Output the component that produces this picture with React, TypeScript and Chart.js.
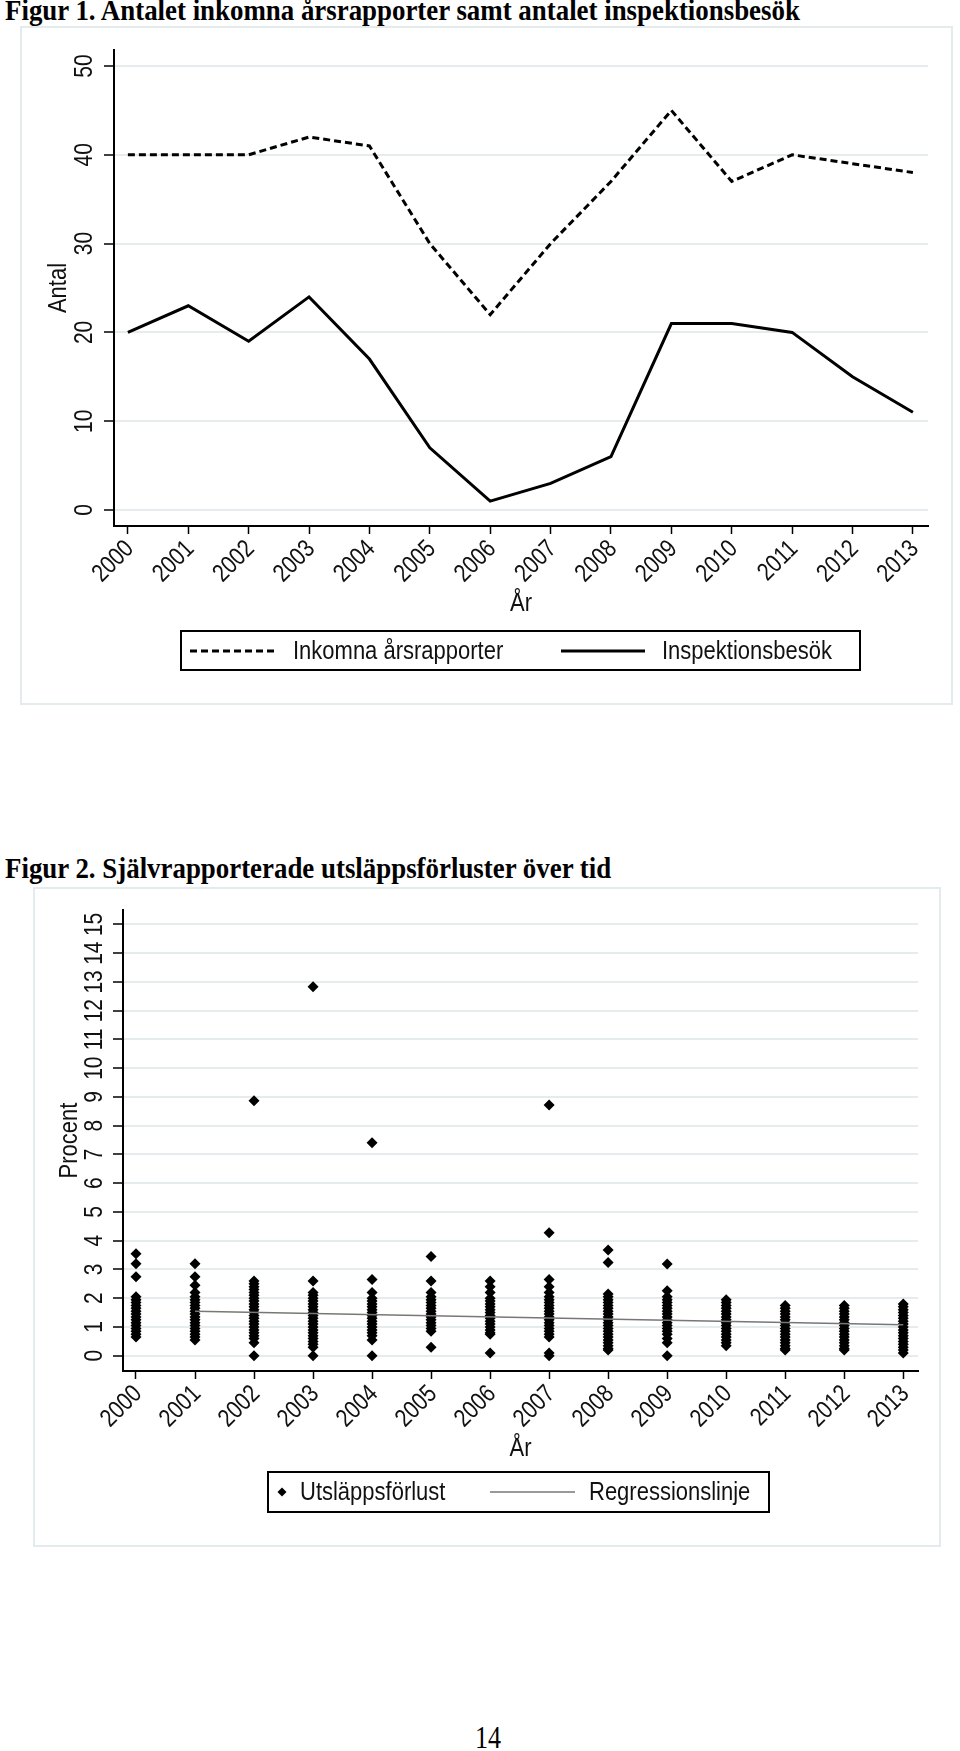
import React, { useEffect, useRef } from "react";
import { Chart, registerables } from "chart.js";

Chart.register(...registerables);

// ---------- Figur 1 data ----------
const years = [2000, 2001, 2002, 2003, 2004, 2005, 2006, 2007, 2008, 2009, 2010, 2011, 2012, 2013];
const yearLabels = ["2000", "2001", "2002", "2003", "2004", "2005", "2006", "2007", "2008", "2009", "2010", "2011", "2012", "2013"];
const inkomna = [40, 40, 40, 42, 41, 30, 22, 30, 37, 45, 37, 40, 39, 38];
const inspektion = [20, 23, 19, 24, 17, 7, 1, 3, 6, 21, 21, 20, 15, 11];
const yTicks1 = [0, 10, 20, 30, 40, 50];

// ---------- Figur 2 data ----------
const yTicks2 = [0, 1, 2, 3, 4, 5, 6, 7, 8, 9, 10, 11, 12, 13, 14, 15];
const v2000 = [3.55, 3.2, 2.75, 2.05, 1.95, 1.85, 1.75, 1.65, 1.55, 1.45, 1.35, 1.25, 1.15, 1.05, 0.95, 0.85, 0.75, 0.65];
const v2001 = [3.2, 2.75, 2.45, 2.2, 2.05, 1.95, 1.85, 1.75, 1.65, 1.55, 1.45, 1.35, 1.25, 1.15, 1.05, 0.95, 0.85, 0.75, 0.65, 0.55];
const v2002 = [8.87, 2.6, 2.5, 2.4, 2.3, 2.2, 2.1, 2.0, 1.9, 1.8, 1.7, 1.6, 1.5, 1.4, 1.3, 1.2, 1.1, 1.0, 0.9, 0.8, 0.7, 0.6, 0.45, 0.0];
const v2003 = [12.83, 2.6, 2.2, 2.1, 2.0, 1.9, 1.8, 1.7, 1.6, 1.5, 1.4, 1.3, 1.2, 1.1, 1.0, 0.9, 0.8, 0.7, 0.6, 0.5, 0.4, 0.3, 0.0];
const v2004 = [7.41, 2.65, 2.2, 2.0, 1.9, 1.8, 1.7, 1.6, 1.5, 1.4, 1.3, 1.2, 1.1, 1.0, 0.9, 0.8, 0.7, 0.55, 0.0];
const v2005 = [3.45, 2.6, 2.2, 2.05, 1.95, 1.85, 1.75, 1.65, 1.55, 1.45, 1.35, 1.25, 1.15, 1.05, 0.95, 0.85, 0.3];
const v2006 = [2.6, 2.4, 2.2, 2.0, 1.9, 1.8, 1.7, 1.6, 1.5, 1.4, 1.3, 1.2, 1.1, 1.0, 0.9, 0.8, 0.75, 0.1];
const v2007 = [8.72, 4.28, 2.65, 2.4, 2.2, 2.05, 1.95, 1.85, 1.75, 1.65, 1.55, 1.45, 1.35, 1.25, 1.15, 1.05, 0.95, 0.85, 0.75, 0.65, 0.1, 0.0];
const v2008 = [3.68, 3.24, 2.15, 2.05, 1.95, 1.85, 1.75, 1.65, 1.55, 1.45, 1.35, 1.25, 1.15, 1.05, 0.95, 0.85, 0.75, 0.65, 0.55, 0.45, 0.35, 0.25, 0.2];
const v2009 = [3.19, 2.26, 2.05, 1.95, 1.85, 1.75, 1.65, 1.55, 1.45, 1.35, 1.25, 1.15, 1.05, 0.95, 0.85, 0.75, 0.6, 0.45, 0.0];
const v2010 = [1.95, 1.85, 1.75, 1.65, 1.55, 1.45, 1.35, 1.25, 1.15, 1.05, 0.95, 0.85, 0.75, 0.65, 0.55, 0.45, 0.35];
const v2011 = [1.75, 1.65, 1.55, 1.45, 1.35, 1.25, 1.15, 1.05, 0.95, 0.85, 0.75, 0.65, 0.55, 0.45, 0.35, 0.25, 0.2];
const v2012 = [1.75, 1.65, 1.55, 1.45, 1.35, 1.25, 1.15, 1.05, 0.95, 0.85, 0.75, 0.65, 0.55, 0.45, 0.35, 0.25, 0.2];
const v2013 = [1.8, 1.7, 1.6, 1.5, 1.4, 1.3, 1.2, 1.1, 1.0, 0.9, 0.8, 0.7, 0.6, 0.5, 0.4, 0.3, 0.2, 0.1];
const valuesByYear = [v2000, v2001, v2002, v2003, v2004, v2005, v2006, v2007, v2008, v2009, v2010, v2011, v2012, v2013];
const regYears = [2001, 2013];
const regValues = [1.55, 1.08];

// ---------- styles ----------
const SANS = "'Liberation Sans', Arial, Helvetica, sans-serif";
const SERIF = "'Liberation Serif', 'Times New Roman', Times, serif";
const GRID = "#e6eced";
const TEXT = "#111";
const STRETCH = 1.2; // text in the original is taller than it is wide
const TICK_SIZE = 21;
const TITLE_SIZE = 22;
const LEGEND_SIZE = 22;

function stretchedText(ctx: CanvasRenderingContext2D, text: string, x: number, y: number, rot: number, align: CanvasTextAlign, size: number) {
  ctx.save();
  ctx.translate(x, y);
  if (rot) ctx.rotate(rot);
  ctx.scale(1 / STRETCH, 1);
  ctx.font = `${size * STRETCH}px ${SANS}`;
  ctx.textAlign = align;
  ctx.textBaseline = "middle";
  ctx.fillStyle = TEXT;
  ctx.fillText(text, 0, 0);
  ctx.restore();
}

function axisTextPlugin(cfg: { yLabelX: number; yTitle: string; yTitleX: number; xTitle: string; xTitleY: number; yLabels: number[] }) {
  return {
    id: "axisText",
    afterDraw(chart: any) {
      const ctx = chart.ctx as CanvasRenderingContext2D;
      const xs = chart.scales.x;
      const ys = chart.scales.y;
      const area = chart.chartArea;
      cfg.yLabels.forEach((v) => {
        stretchedText(ctx, String(v), cfg.yLabelX, ys.getPixelForValue(v), -Math.PI / 2, "center", TICK_SIZE);
      });
      years.forEach((v, i) => {
        const px = xs.getPixelForValue(v);
        stretchedText(ctx, yearLabels[i], px + 2, xs.top + 19, -Math.PI / 4, "right", TICK_SIZE);
      });
      stretchedText(ctx, cfg.yTitle, cfg.yTitleX, (area.top + area.bottom) / 2, -Math.PI / 2, "center", TITLE_SIZE);
      stretchedText(ctx, cfg.xTitle, (area.left + area.right) / 2, cfg.xTitleY, 0, "center", TITLE_SIZE);
    },
  };
}

const pinX = (h: number) => (s: any) => {
  s.height = h;
  s.paddingLeft = 0;
  s.paddingRight = 0;
  s.paddingTop = 0;
  s.paddingBottom = 0;
};
const pinY = (w: number) => (s: any) => {
  s.width = w;
  s.paddingLeft = 0;
  s.paddingRight = 0;
  s.paddingTop = 0;
  s.paddingBottom = 0;
};

const legend1Plugin = {
  id: "legend1",
  afterDraw(chart: any) {
    const ctx = chart.ctx as CanvasRenderingContext2D;
    const ds = chart.data.datasets;
    ctx.save();
    ctx.strokeStyle = "#000";
    ctx.lineWidth = 2;
    ctx.setLineDash([]);
    ctx.strokeRect(161, 605, 679, 39);
    const cy = 625;
    ctx.lineWidth = 3;
    ctx.setLineDash(ds[0].borderDash || []);
    ctx.beginPath();
    ctx.moveTo(170, cy);
    ctx.lineTo(256, cy);
    ctx.stroke();
    ctx.setLineDash([]);
    ctx.beginPath();
    ctx.moveTo(541, cy);
    ctx.lineTo(625, cy);
    ctx.stroke();
    ctx.restore();
    stretchedText(ctx, ds[0].label, 273, cy + 1, 0, "left", LEGEND_SIZE);
    stretchedText(ctx, ds[1].label, 642, cy + 1, 0, "left", LEGEND_SIZE);
  },
};

const legend2Plugin = {
  id: "legend2",
  afterDraw(chart: any) {
    const ctx = chart.ctx as CanvasRenderingContext2D;
    const ds = chart.data.datasets;
    ctx.save();
    ctx.strokeStyle = "#000";
    ctx.lineWidth = 2;
    ctx.strokeRect(235, 585, 501, 40);
    const cy = 605;
    ctx.fillStyle = "#000";
    ctx.beginPath();
    ctx.moveTo(249, cy - 4.5);
    ctx.lineTo(253.5, cy);
    ctx.lineTo(249, cy + 4.5);
    ctx.lineTo(244.5, cy);
    ctx.closePath();
    ctx.fill();
    ctx.strokeStyle = ds[0].borderColor;
    ctx.lineWidth = ds[0].borderWidth;
    ctx.beginPath();
    ctx.moveTo(457, cy);
    ctx.lineTo(542, cy);
    ctx.stroke();
    ctx.restore();
    stretchedText(ctx, ds[1].label, 267, cy + 1, 0, "left", LEGEND_SIZE);
    stretchedText(ctx, ds[0].label, 556, cy + 1, 0, "left", LEGEND_SIZE);
  },
};

function xScale(min: number, max: number, height: number): any {
  return {
    type: "linear",
    min,
    max,
    afterBuildTicks: (s: any) => {
      s.ticks = years.map((v) => ({ value: v }));
    },
    afterFit: pinX(height),
    ticks: { display: false, autoSkip: false },
    grid: { drawOnChartArea: false, drawTicks: true, tickLength: 8, tickColor: "#000", tickWidth: 1.5 },
    border: { display: true, color: "#000", width: 2 },
    title: { display: false },
  };
}

function yScale(min: number, max: number, ticks: number[], width: number): any {
  return {
    type: "linear",
    min,
    max,
    afterBuildTicks: (s: any) => {
      s.ticks = ticks.map((v) => ({ value: v }));
    },
    afterFit: pinY(width),
    ticks: { display: false, autoSkip: false },
    grid: { color: GRID, lineWidth: 2, drawTicks: true, tickLength: 10, tickColor: "#000", tickWidth: 1.5 },
    border: { display: true, color: "#000", width: 2 },
    title: { display: false },
  };
}

function makeChart1(): any {
  return {
    type: "line",
    data: {
      datasets: [
        {
          label: "Inkomna årsrapporter",
          data: years.map((x, i) => ({ x, y: inkomna[i] })),
          borderColor: "#000",
          borderWidth: 3,
          borderDash: [7, 4],
          pointRadius: 0,
          tension: 0,
          fill: false,
        },
        {
          label: "Inspektionsbesök",
          data: years.map((x, i) => ({ x, y: inspektion[i] })),
          borderColor: "#000",
          borderWidth: 3,
          pointRadius: 0,
          tension: 0,
          fill: false,
        },
      ],
    },
    options: {
      animation: false,
      responsive: false,
      events: [],
      layout: { padding: { left: 0, top: 24, right: 25, bottom: 0 } },
      plugins: { legend: { display: false }, tooltip: { enabled: false } },
      scales: {
        x: xScale(1999.77, 2013.25, 179),
        y: yScale(-1.8, 51.8, yTicks1, 94),
      },
    },
    plugins: [
      axisTextPlugin({ yLabelX: 65, yTitle: "Antal", yTitleX: 39, xTitle: "År", xTitleY: 578, yLabels: yTicks1 }),
      legend1Plugin,
    ],
  };
}

function makeChart2(): any {
  const points: { x: number; y: number }[] = [];
  years.forEach((yr, i) => {
    valuesByYear[i].forEach((v) => points.push({ x: yr, y: v }));
  });
  return {
    type: "scatter",
    data: {
      datasets: [
        {
          label: "Regressionslinje",
          data: regYears.map((x, i) => ({ x, y: regValues[i] })),
          showLine: true,
          borderColor: "#777",
          borderWidth: 1.5,
          pointRadius: 0,
          tension: 0,
          order: 0,
        },
        {
          label: "Utsläppsförlust",
          data: points,
          pointStyle: "rectRot",
          pointRadius: 5.5,
          backgroundColor: "#000",
          borderColor: "#000",
          borderWidth: 0,
          order: 1,
        },
      ],
    },
    options: {
      animation: false,
      responsive: false,
      events: [],
      layout: { padding: { left: 0, top: 23, right: 23, bottom: 0 } },
      plugins: { legend: { display: false }, tooltip: { enabled: false } },
      scales: {
        x: xScale(1999.78, 2013.25, 176),
        y: yScale(-0.53, 15.5, yTicks2, 90),
      },
    },
    plugins: [
      axisTextPlugin({ yLabelX: 62, yTitle: "Procent", yTitleX: 37, xTitle: "År", xTitleY: 562, yLabels: yTicks2 }),
      legend2Plugin,
    ],
  };
}

function ChartBox(props: { left: number; top: number; width: number; height: number; make: () => any }) {
  const { left, top, width, height, make } = props;
  const ref = useRef<HTMLCanvasElement | null>(null);
  useEffect(() => {
    if (!ref.current) return;
    const chart = new Chart(ref.current, make());
    return () => chart.destroy();
  }, []);
  return (
    <>
      <canvas
        ref={ref}
        width={width}
        height={height}
        style={{ position: "absolute", left, top, width, height, display: "block" }}
      />
      <div
        style={{
          position: "absolute",
          left,
          top,
          width,
          height,
          boxSizing: "border-box",
          border: "2px solid #e3ebec",
          pointerEvents: "none",
        }}
      />
    </>
  );
}

export default function App() {
  const titleStyle: React.CSSProperties = {
    position: "absolute",
    left: 5,
    fontFamily: SERIF,
    fontWeight: "bold",
    fontSize: 28.5,
    lineHeight: "28.5px",
    whiteSpace: "nowrap",
    color: "#000",
    transform: "scaleX(0.943)",
    transformOrigin: "0 0",
  };
  return (
    <div style={{ position: "absolute", left: 0, top: 0, width: 960, height: 1751, background: "#fff", overflow: "hidden" }}>
      <div style={{ ...titleStyle, top: -3 }}>Figur 1. Antalet inkomna årsrapporter samt antalet inspektionsbesök</div>
      <ChartBox left={20} top={26} width={933} height={679} make={makeChart1} />
      <div style={{ ...titleStyle, top: 855 }}>Figur 2. Självrapporterade utsläppsförluster över tid</div>
      <ChartBox left={33} top={887} width={908} height={660} make={makeChart2} />
      <div
        style={{
          position: "absolute",
          left: 475,
          top: 1722,
          fontFamily: SERIF,
          fontSize: 31,
          lineHeight: "31px",
          color: "#000",
          whiteSpace: "nowrap",
          transform: "scaleX(0.84)",
          transformOrigin: "0 0",
        }}
      >
        14
      </div>
    </div>
  );
}
